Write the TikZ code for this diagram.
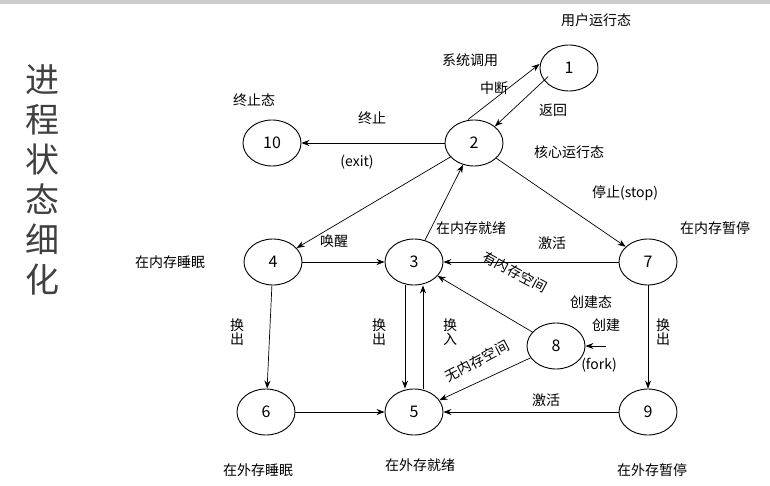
\documentclass[tikz,border=0pt]{standalone}
\usepackage{fontspec}
\setmainfont{Noto Sans CJK SC}
\usetikzlibrary{shapes.geometric,arrows.meta}
\begin{document}
\begin{tikzpicture}[x=1pt,y=-1pt,
  st/.style={ellipse,draw,line width=0.9pt,minimum width=58pt,minimum height=46pt,font=\fontsize{16}{16}\selectfont},
  lb/.style={font=\fontsize{14}{14}\selectfont},
  ar/.style={-{Stealth[length=8pt,width=6pt]},line width=0.7pt}]
\useasboundingbox (0,0) rectangle (770,486);
\fill[gray!40] (0,0) rectangle (770,4);
\node[font=\fontsize{34}{40}\selectfont,align=center,text=black!75] at (42,180) {进\\程\\状\\态\\细\\化};
\node[st] (n1) at (569,68) {1};
\node[st] (n2) at (474,143) {2};
\node[st] (n10) at (272,143) {10};
\node[st] (n4) at (273,262) {4};
\node[st] (n3) at (414,262) {3};
\node[st] (n7) at (648,262) {7};
\node[st] (n8) at (556,346) {8};
\node[st] (n6) at (266,412) {6};
\node[st] (n5) at (414,412) {5};
\node[st] (n9) at (648,412) {9};
\coordinate (f) at (606,346);
\draw[ar] ([xshift=-6pt]n2.north) -- ([yshift=4pt]n1.west);
\draw[ar] ([yshift=8pt]n1.south west) -- (n2.north east);
\draw[ar] (n2) -- (n10);
\draw[ar] (n2) -- (n4);
\draw[ar] (n3) -- (n2);
\draw[ar] (n2) -- (n7);
\draw[ar] (n4) -- (n3);
\draw[ar] (n7) -- (n3);
\draw[ar] (n8) -- (n3);
\draw[ar] ([xshift=-9pt]n3.south) -- ([xshift=-9pt]n5.north);
\draw[ar] ([xshift=9pt]n5.north) -- ([xshift=9pt]n3.south);
\draw[ar] (n8) -- (n5);
\draw[ar] (n9) -- (n5);
\draw[ar] (n4) -- (n6);
\draw[ar] (n6) -- (n5);
\draw[ar] (n7) -- (n9);
\draw[ar] (f) -- (n8);
\node[lb] at (596,20) {用户运行态};
\node[lb] at (470,60) {系统调用};
\node[lb] at (494,88) {中断};
\node[lb] at (553,110) {返回};
\node[lb] at (254,100) {终止态};
\node[lb] at (372,118) {终止};
\node[lb] at (357,162) {(exit)};
\node[lb] at (569,152) {核心运行态};
\node[lb] at (625,193) {停止(stop)};
\node[lb] at (715,228) {在内存暂停};
\node[lb] at (471,228) {在内存就绪};
\node[lb] at (334,241) {唤醒};
\node[lb] at (552,243) {激活};
\node[lb] at (170,262) {在内存睡眠};
\node[lb,rotate=-28] at (515,272) {有内存空间};
\node[lb] at (591,302) {创建态};
\node[lb] at (606,325) {创建};
\node[lb] at (599,365) {(fork)};
\node[lb,rotate=28] at (477,361) {无内存空间};
\node[lb,align=center] at (237,332) {换\\出};
\node[lb,align=center] at (379,332) {换\\出};
\node[lb,align=center] at (450,332) {换\\入};
\node[lb,align=center] at (663,332) {换\\出};
\node[lb] at (546,400) {激活};
\node[lb] at (258,470) {在外存睡眠};
\node[lb] at (420,465) {在外存就绪};
\node[lb] at (652,470) {在外存暂停};
\end{tikzpicture}
\end{document}
